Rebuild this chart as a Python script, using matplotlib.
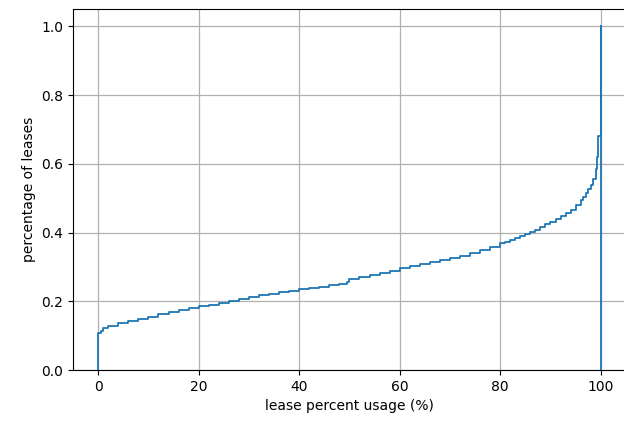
#cumulative share of leases by usage
import numpy as np, matplotlib
matplotlib.use("Agg")
import matplotlib.pyplot as plt

#bin edges (lease percent usage) and cumulative fraction from each edge on
usage = [0, 0.5, 1, 2, 4, 6, 8, 10, 12, 14, 16, 18, 20, 22, 24, 26, 28, 30,
         32, 34, 36, 38, 40, 42, 44, 46, 48, 49.5, 50, 52, 54, 56, 58, 60, 62,
         64, 66, 68, 70, 72, 74, 76, 78, 80, 81, 82, 83, 84, 85, 86, 87, 88,
         89, 90, 91, 92, 93, 94, 95, 96, 96.5, 97, 97.5, 98, 98.5, 99, 99.3,
         99.5, 100]
cum_frac = [0.107, 0.115, 0.122, 0.128, 0.136, 0.142, 0.148, 0.155, 0.163,
            0.170, 0.175, 0.180, 0.185, 0.189, 0.195, 0.201, 0.206, 0.212,
            0.217, 0.222, 0.227, 0.231, 0.235, 0.239, 0.243, 0.247, 0.251,
            0.255, 0.266, 0.271, 0.277, 0.283, 0.289, 0.296, 0.302, 0.308,
            0.314, 0.320, 0.326, 0.333, 0.341, 0.350, 0.359, 0.369, 0.374,
            0.379, 0.384, 0.390, 0.396, 0.402, 0.409, 0.416, 0.424, 0.432,
            0.440, 0.448, 0.457, 0.467, 0.480, 0.494, 0.505, 0.515, 0.527,
            0.540, 0.556, 0.585, 0.620, 0.680, 1.0]

#hist-style step outline: start and end on the x axis
xs = np.concatenate([[usage[0]], usage, [usage[-1]]])
ys = np.concatenate([[0.0], cum_frac, [0.0]])

fig = plt.figure(figsize=(6.24, 4.21), dpi=100)
ax = fig.add_axes([0.117, 0.121, 0.886, 0.857])
ax.step(xs, ys, where="post", color="#1f77b4", lw=1.3)

ax.set_xlim(-5, 105)
ax.set_ylim(0, 1.05)
ax.set_xticks([0, 20, 40, 60, 80, 100])
ax.set_yticks([0.0, 0.2, 0.4, 0.6, 0.8, 1.0])
ax.grid(True, color="#b0b0b0", lw=0.9)
ax.set_xlabel("lease percent usage (%)")
ax.set_ylabel("percentage of leases")

plt.savefig("out.png", dpi=100)
